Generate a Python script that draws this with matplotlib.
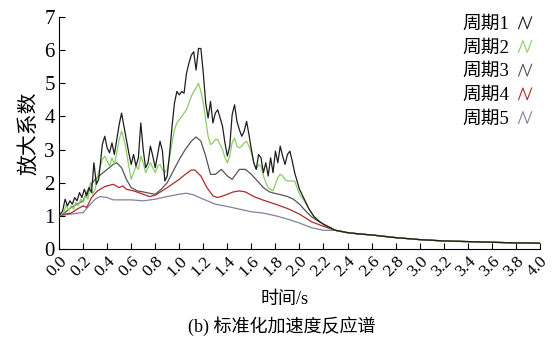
import matplotlib
matplotlib.use("Agg")
import matplotlib.pyplot as plt
from matplotlib.lines import Line2D
from matplotlib.legend_handler import HandlerBase

plt.rcParams['font.family'] = ['Liberation Serif', 'Noto Sans CJK SC']
plt.rcParams['axes.unicode_minus'] = False

# period 1 (most jagged)
t1 = [0.00, 0.03, 0.05, 0.07, 0.09, 0.11, 0.13, 0.15, 0.17, 0.19, 0.21, 0.23, 0.25, 0.27,
      0.29, 0.31, 0.33, 0.36, 0.38, 0.40, 0.42, 0.44, 0.46, 0.48, 0.50, 0.52, 0.54, 0.56,
      0.58, 0.60, 0.62, 0.64, 0.66, 0.68, 0.70, 0.72, 0.74, 0.76, 0.78, 0.80, 0.82, 0.84,
      0.86, 0.88, 0.90, 0.92, 0.94, 0.96, 0.98, 1.00, 1.02, 1.04, 1.06, 1.08, 1.10, 1.12,
      1.14, 1.16, 1.18, 1.20, 1.22, 1.24, 1.26, 1.28, 1.30, 1.32, 1.34, 1.36, 1.38, 1.40,
      1.42, 1.44, 1.46, 1.48, 1.50, 1.52, 1.54, 1.56, 1.58, 1.60, 1.62, 1.64, 1.66, 1.68,
      1.70, 1.72, 1.74, 1.76, 1.78, 1.80, 1.82, 1.84, 1.86, 1.88, 1.90, 1.92, 1.94, 1.96,
      1.98, 2.00, 2.04, 2.08, 2.12, 2.16, 2.20]
s1 = [1.00, 1.15, 1.50, 1.30, 1.45, 1.35, 1.55, 1.45, 1.70, 1.55, 1.80, 1.60, 1.85, 1.70,
      2.60, 1.95, 2.10, 3.15, 3.40, 3.05, 2.90, 3.20, 2.85, 3.30, 3.75, 4.10, 3.70, 3.30,
      2.90, 2.55, 2.85, 2.50, 2.75, 3.80, 3.00, 2.45, 2.60, 3.10, 2.80, 2.45, 2.85, 3.25,
      2.95, 2.05, 2.20, 2.90, 3.70, 4.40, 4.75, 4.65, 4.75, 4.70, 5.30, 5.60, 5.85, 5.95,
      5.40, 6.05, 6.05, 5.30, 4.40, 3.95, 4.45, 3.80, 4.10, 4.20, 3.95, 3.70, 3.20, 2.80,
      3.10, 4.05, 4.35, 3.85, 3.60, 3.40, 3.55, 3.85, 3.45, 3.00, 2.60, 2.40, 2.85, 2.75,
      2.30, 2.60, 2.20, 2.75, 2.30, 2.95, 2.60, 3.10, 2.80, 2.55, 2.85, 2.95, 2.65, 2.30,
      2.05, 1.80, 1.50, 1.20, 0.98, 0.84, 0.74]

# period 2
t2 = [0.00, 0.04, 0.06, 0.08, 0.10, 0.12, 0.14, 0.16, 0.18, 0.20, 0.22, 0.24, 0.26, 0.28,
      0.30, 0.32, 0.36, 0.38, 0.40, 0.42, 0.44, 0.46, 0.48, 0.50, 0.52, 0.54, 0.56, 0.58,
      0.60, 0.62, 0.64, 0.66, 0.68, 0.70, 0.72, 0.74, 0.76, 0.78, 0.80, 0.82, 0.84, 0.86,
      0.88, 0.90, 0.92, 0.94, 0.96, 0.98, 1.00, 1.02, 1.04, 1.06, 1.08, 1.10, 1.12, 1.14,
      1.16, 1.18, 1.20, 1.22, 1.24, 1.26, 1.28, 1.30, 1.32, 1.34, 1.36, 1.38, 1.40, 1.42,
      1.44, 1.46, 1.48, 1.50, 1.52, 1.54, 1.56, 1.58, 1.60, 1.62, 1.64, 1.66, 1.68, 1.70,
      1.72, 1.74, 1.76, 1.78, 1.80, 1.82, 1.84, 1.86, 1.88, 1.90, 1.92, 1.94, 1.96, 1.98,
      2.00, 2.04, 2.08, 2.12, 2.16, 2.20]
s2 = [1.00, 1.10, 1.35, 1.15, 1.30, 1.20, 1.40, 1.30, 1.50, 1.40, 1.60, 1.50, 2.00, 1.65,
      1.80, 2.20, 2.70, 2.80, 2.65, 2.50, 2.75, 2.55, 2.90, 3.30, 3.55, 3.30, 2.95, 2.50,
      2.10, 2.30, 2.50, 2.40, 2.80, 2.60, 2.30, 2.45, 2.60, 2.45, 2.30, 2.50, 2.55, 2.40,
      2.30, 2.40, 2.75, 3.20, 3.60, 3.80, 3.90, 4.00, 4.10, 4.20, 4.40, 4.60, 4.75, 4.85,
      5.00, 4.75, 4.40, 3.90, 3.40, 3.15, 3.20, 3.30, 3.30, 3.15, 3.00, 2.75, 2.60, 2.80,
      3.20, 3.35, 3.10, 3.05, 3.10, 3.20, 3.25, 3.10, 2.90, 2.60, 2.40, 2.55, 2.50, 2.20,
      2.00, 1.85, 1.80, 1.75, 1.95, 2.15, 2.25, 2.20, 2.10, 2.05, 2.05, 2.05, 2.05, 1.85,
      1.65, 1.45, 1.20, 0.98, 0.85, 0.75]

# period 3
t3 = [0.00, 0.05, 0.10, 0.15, 0.20, 0.25, 0.30, 0.35, 0.40, 0.45, 0.48, 0.52, 0.56, 0.60,
      0.65, 0.70, 0.75, 0.80, 0.85, 0.90, 0.95, 1.00, 1.05, 1.10, 1.14, 1.18, 1.22, 1.26,
      1.30, 1.35, 1.40, 1.44, 1.50, 1.55, 1.60, 1.65, 1.70, 1.75, 1.80, 1.85, 1.90, 1.95,
      2.00, 2.05, 2.10, 2.15, 2.20]
s3 = [1.00, 1.10, 1.25, 1.35, 1.45, 1.85, 2.10, 2.25, 2.40, 2.55, 2.60, 2.45, 2.10, 1.85,
      1.75, 1.72, 1.68, 1.65, 1.80, 2.00, 2.35, 2.70, 3.00, 3.25, 3.38, 3.25, 2.80, 2.25,
      2.25, 2.40, 2.20, 2.10, 2.40, 2.40, 2.25, 2.05, 1.85, 1.72, 1.67, 1.63, 1.58, 1.50,
      1.35, 1.15, 0.97, 0.85, 0.75]

# period 4
t4 = [0.00, 0.05, 0.10, 0.15, 0.20, 0.23, 0.27, 0.32, 0.38, 0.45, 0.50, 0.53, 0.56, 0.62,
      0.70, 0.75, 0.80, 0.90, 1.00, 1.05, 1.10, 1.13, 1.18, 1.23, 1.28, 1.32, 1.38, 1.45,
      1.50, 1.55, 1.62, 1.70, 1.80, 1.90, 2.00, 2.10, 2.20]
s4 = [1.00, 1.05, 1.08, 1.20, 1.30, 1.25, 1.55, 1.75, 1.88, 1.95, 1.85, 1.90, 1.80, 1.75,
      1.65, 1.58, 1.62, 1.85, 2.10, 2.25, 2.38, 2.38, 2.20, 1.85, 1.60, 1.55, 1.62, 1.72,
      1.75, 1.72, 1.58, 1.47, 1.35, 1.22, 1.05, 0.82, 0.68]

# period 5
t5 = [0.00, 0.10, 0.20, 0.25, 0.30, 0.34, 0.40, 0.45, 0.50, 0.60, 0.70, 0.80, 0.90, 1.00,
      1.06, 1.12, 1.20, 1.30, 1.40, 1.50, 1.60, 1.70, 1.80, 1.90, 2.00, 2.10, 2.20]
s5 = [1.00, 1.05, 1.10, 1.30, 1.50, 1.58, 1.55, 1.48, 1.48, 1.48, 1.45, 1.50, 1.58, 1.65,
      1.68, 1.63, 1.50, 1.35, 1.28, 1.20, 1.12, 1.08, 1.00, 0.90, 0.78, 0.64, 0.56]

# long-period tail, where all five curves overlap
tail_t = [2.30, 2.40, 2.50, 2.60, 2.70, 2.80, 2.90, 3.00, 3.10, 3.20, 3.30, 3.40, 3.50,
          3.60, 3.70, 3.80, 3.90, 4.00]
tail_v = [0.56, 0.49, 0.45, 0.42, 0.38, 0.34, 0.31, 0.28, 0.26, 0.24, 0.23, 0.22, 0.21,
          0.20, 0.19, 0.18, 0.18, 0.17]

labels = ['周期1', '周期2', '周期3', '周期4', '周期5']
colors = ['#1e1e1e', '#8ccc66', '#555555', '#b02a2a', '#8080a0']
xticks = [round(0.2 * i, 1) for i in range(21)]


class ZigzagHandler(HandlerBase):
    """Small /\\/ glyph instead of a straight legend line."""
    def create_artists(self, legend, orig_handle, xdescent, ydescent,
                       width, height, fontsize, trans):
        w, h = width, height * 0.9
        x0, y0 = -xdescent, -ydescent + 0.02 * height
        xs = [x0, x0 + w * 0.33, x0 + w * 0.66, x0 + w]
        ys = [y0, y0 + h, y0, y0 + h]
        line = Line2D(xs, ys, color=orig_handle.get_color(), lw=0.8, transform=trans)
        return [line]


fig = plt.figure(figsize=(5.52, 3.40), dpi=100)
ax = fig.add_axes([0.107, 0.268, 0.871, 0.682])

series = [(t1, s1), (t2, s2), (t3, s3), (t4, s4), (t5, s5)]
# draw back-to-front so period 1 sits on top
for k in [4, 3, 2, 1, 0]:
    t, s = series[k]
    ax.plot(t + tail_t, s + tail_v, color=colors[k], lw=0.9, zorder=3 + (4 - k))
handles = [Line2D([], [], color=c, lw=0.9) for c in colors]

ax.set_xlim(0, 4.0)
ax.set_ylim(0, 7)
ax.set_xticks(xticks)
ax.set_xticklabels([f'{v:.1f}' for v in xticks], rotation=45, ha='right',
                   rotation_mode='anchor', fontsize=12.5)
ax.set_yticks(range(8))
ax.tick_params(axis='y', labelsize=15, direction='in', length=4, pad=3)
ax.tick_params(axis='x', direction='in', length=4, pad=3)
for side in ['top', 'right']:
    ax.spines[side].set_visible(False)
ax.set_ylabel('放大系数', fontsize=15, labelpad=4)

leg = ax.legend(handles, labels, loc='upper right', bbox_to_anchor=(0.983, 1.005),
                frameon=False, markerfirst=False, fontsize=13.5,
                borderpad=0, borderaxespad=0,
                handlelength=0.7, handletextpad=0.5, labelspacing=0.35,
                handler_map={Line2D: ZigzagHandler()})

fig.text(0.515, 0.118, '时间/s', ha='center', va='center', fontsize=13)
fig.text(0.51, 0.04, '(b) 标准化加速度反应谱', ha='center', va='center', fontsize=13)

fig.savefig('out.png', dpi=100)
